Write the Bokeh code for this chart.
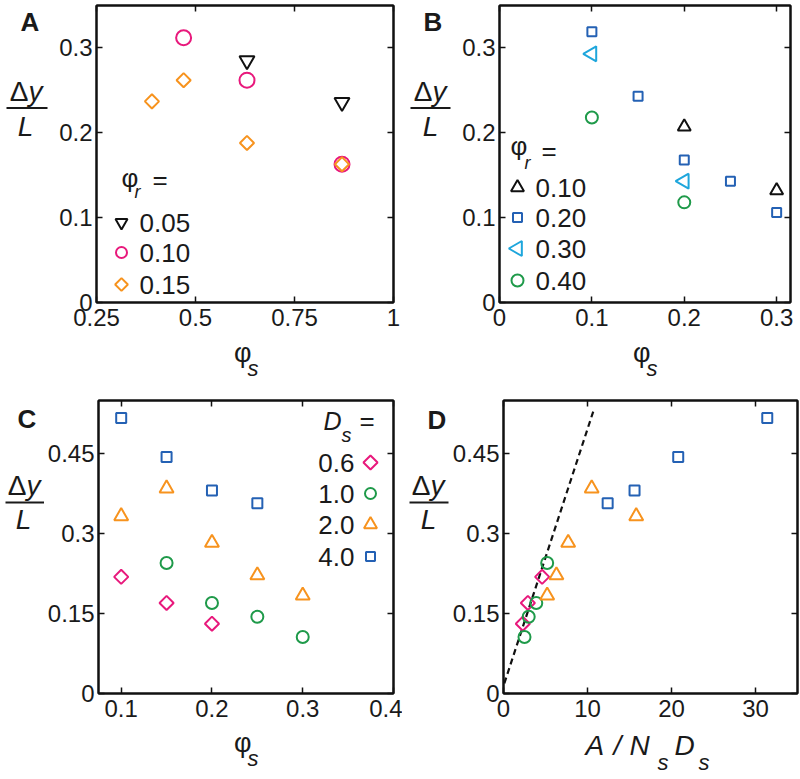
import math
from bokeh.plotting import figure
from bokeh.models import Range1d, FixedTicker, LinearAxis, Label, CustomJSTickFormatter
from bokeh.layouts import column, row
from bokeh.embed import file_html
from bokeh.resources import INLINE

# ---------------- data ----------------
# Panel A : dy/L vs phi_s for phi_r = 0.05, 0.10, 0.15
A_x_005 = [0.63, 0.87]
A_y_005 = [0.285, 0.236]
A_x_010 = [0.47, 0.63, 0.87]
A_y_010 = [0.312, 0.262, 0.163]
A_x_015 = [0.39, 0.47, 0.63, 0.87]
A_y_015 = [0.237, 0.262, 0.188, 0.163]
A_legend = ["0.05", "0.10", "0.15"]

# Panel B : dy/L vs phi_s for phi_r = 0.10, 0.20, 0.30, 0.40
B_x_010 = [0.2, 0.3]
B_y_010 = [0.207, 0.132]
B_x_020 = [0.1, 0.15, 0.2, 0.25, 0.3]
B_y_020 = [0.319, 0.243, 0.168, 0.143, 0.106]
B_x_030 = [0.1, 0.2]
B_y_030 = [0.293, 0.143]
B_x_040 = [0.1, 0.2]
B_y_040 = [0.218, 0.118]
B_legend = ["0.10", "0.20", "0.30", "0.40"]

# Panel C : dy/L vs phi_s for D_s = 0.6, 1.0, 2.0, 4.0
C_x_06 = [0.1, 0.15, 0.2]
C_y_06 = [0.219, 0.170, 0.131]
C_x_10 = [0.15, 0.2, 0.25, 0.3]
C_y_10 = [0.245, 0.170, 0.144, 0.106]
C_x_20 = [0.1, 0.15, 0.2, 0.25, 0.3]
C_y_20 = [0.333, 0.385, 0.283, 0.222, 0.184]
C_x_40 = [0.1, 0.15, 0.2, 0.25]
C_y_40 = [0.517, 0.444, 0.381, 0.357]
C_legend = ["0.6", "1.0", "2.0", "4.0"]

# Panel D : same dy/L vs A/(N_s D_s)
D_x_06 = [4.6, 2.9, 2.3]
D_x_10 = [5.2, 3.9, 3.0, 2.5]
D_x_20 = [15.8, 10.5, 7.7, 6.3, 5.2]
D_x_40 = [31.4, 20.8, 15.6, 12.4]
fit_x = [0.1, 10.8]
fit_y = [0.019, 0.535]

# ticks
A_xticks = [0.25, 0.5, 0.75, 1]
AB_yticks = [0, 0.1, 0.2, 0.3]
B_xticks = [0, 0.1, 0.2, 0.3]
C_xticks = [0.1, 0.2, 0.3, 0.4]
CD_yticks = [0, 0.15, 0.3, 0.45]
D_xticks = [0, 10, 20, 30]

# ---------------- style / layout ----------------
FONT = "Liberation Sans"
INK = "#1a1a1a"
BLACK = "#111111"
PINK = "#e8197c"
ORANGE = "#f7931e"
BLUE = "#2461b4"
CYAN = "#1ea6dc"
GREEN = "#1f9a4a"
LW = 2
DIAMOND = math.pi / 4
LEFT_TRI = math.pi / 2

# quadrant layout in page pixels
Q = {
    "A": dict(qx=0, qy=0, qw=400, qh=390, sw=52, bl=44, fw=297, br=7, bt=5, fh=297, bb=34),
    "B": dict(qx=400, qy=0, qw=400, qh=390, sw=55, bl=44, fw=291, br=10, bt=5, fh=297, bb=34),
    "C": dict(qx=0, qy=390, qw=400, qh=387, sw=44, bl=52, fw=295, br=9, bt=10, fh=293, bb=33),
    "D": dict(qx=400, qy=390, qw=399, qh=387, sw=47, bl=52, fw=294, br=6, bt=10, fh=293, bb=33),
}
RANGES = {
    "A": ((0.25, 1.0), (0, 0.35)),
    "B": ((0, 0.315), (0, 0.35)),
    "C": ((0.075, 0.4), (0, 0.55)),
    "D": ((0, 35), (0, 0.55)),
}


def frame_rect(key):
    q = Q[key]
    return q["qx"] + q["sw"] + q["bl"], q["qy"] + q["bt"], q["fw"], q["fh"]


def to_data(key, X, Y):
    fl, ft, fw, fh = frame_rect(key)
    (x0, x1), (y0, y1) = RANGES[key]
    return (x0 + (X - fl) / fw * (x1 - x0), y0 + (ft + fh - Y) / fh * (y1 - y0))


def make_fig(key, xticks, yticks):
    q = Q[key]
    (x0, x1), (y0, y1) = RANGES[key]
    p = figure(frame_width=q["fw"], frame_height=q["fh"],
               x_range=Range1d(x0, x1), y_range=Range1d(y0, y1),
               min_border_left=q["bl"], min_border_right=q["br"],
               min_border_top=q["bt"], min_border_bottom=q["bb"],
               output_backend="svg", toolbar_location=None, tools="")
    p.title.visible = False
    p.xgrid.visible = False
    p.ygrid.visible = False
    p.outline_line_color = BLACK
    p.outline_line_width = LW
    p.background_fill_color = "white"
    p.border_fill_color = "white"
    for ax, ticks, so in ((p.xaxis[0], xticks, 6), (p.yaxis[0], yticks, 4)):
        ax.ticker = FixedTicker(ticks=ticks)
        ax.formatter = CustomJSTickFormatter(code="return tick.toString()")
        ax.major_tick_in = 6
        ax.major_tick_out = 0
        ax.minor_tick_line_color = None
        ax.axis_line_width = LW
        ax.axis_line_color = BLACK
        ax.major_tick_line_width = 1.5
        ax.major_tick_line_color = BLACK
        ax.major_label_text_font = FONT
        ax.major_label_text_font_size = "24px"
        ax.major_label_text_color = INK
        ax.major_label_standoff = so
    for loc, ticks in (("above", xticks), ("right", yticks)):
        ax = LinearAxis(ticker=FixedTicker(ticks=ticks),
                        formatter=CustomJSTickFormatter(code="return ''"),
                        major_tick_in=6, major_tick_out=0,
                        minor_tick_line_color=None,
                        major_label_text_font_size="1px",
                        major_label_standoff=0,
                        axis_line_width=LW, axis_line_color=BLACK,
                        major_tick_line_width=1.5, major_tick_line_color=BLACK)
        p.add_layout(ax, loc)
    return p


def make_strip(left, top, w, h):
    f = figure(width=w, height=h, x_range=Range1d(0, w), y_range=Range1d(0, h),
               min_border=0, min_border_left=0, min_border_right=0,
               min_border_top=0, min_border_bottom=0,
               x_axis_type=None, y_axis_type=None,
               output_backend="svg", toolbar_location=None, tools="")
    f.title.visible = False
    f.outline_line_color = None
    f.background_fill_color = "white"
    f.border_fill_color = "white"
    return dict(fig=f, left=left, top=top, h=h)


def s_text(st, X, Y, text, size, style="normal", align="left"):
    st["fig"].add_layout(Label(x=X - st["left"], y=st["top"] + st["h"] - Y, text=text,
                               text_font=FONT, text_font_size=f"{size}px",
                               text_font_style=style, text_align=align,
                               text_baseline="middle", text_color=INK))


def s_bar(st, X0, X1, Y):
    yy = st["top"] + st["h"] - Y
    st["fig"].line([X0 - st["left"], X1 - st["left"]], [yy, yy], line_color=INK, line_width=2)


def lab(p, key, X, Y, text, size, style="normal", align="left"):
    x, y = to_data(key, X, Y)
    p.add_layout(Label(x=x, y=y, text=text, text_font=FONT, text_font_size=f"{size}px",
                       text_font_style=style, text_align=align, text_baseline="middle",
                       text_color=INK))


def mk(p, xs, ys, marker, color, size, angle=0.0):
    p.scatter(xs, ys, marker=marker, size=size, angle=angle,
              line_color=color, line_width=LW, fill_color=None)


def strips(key):
    q = Q[key]
    ph = q["bt"] + q["fh"] + q["bb"]
    left = make_strip(q["qx"], q["qy"], q["sw"], ph)
    bottom = make_strip(q["qx"], q["qy"] + ph, q["qw"], q["qh"] - ph)
    return left, bottom


def fraction(st, xd, ymid, xb0, xb1, ybar, xl, ylmid):
    s_text(st, xd, ymid, "\u0394", 28, align="right")
    s_text(st, xd, ymid, "y", 28, style="italic")
    s_bar(st, xb0, xb1, ybar)
    s_text(st, xl, ylmid, "L", 28, style="italic", align="center")


# ---------------- Panel A ----------------
pA = make_fig("A", A_xticks, AB_yticks)
mk(pA, A_x_005, A_y_005, "inverted_triangle", BLACK, 15)
mk(pA, A_x_010, A_y_010, "circle", PINK, 15)
mk(pA, A_x_015, A_y_015, "square", ORANGE, 10, DIAMOND)
lA, bA = strips("A")
s_text(lA, 20, 19, "A", 26, style="bold")
fraction(lA, 28, 97, 6, 47, 116, 25, 137)
s_text(bA, 251, 352, "\u03c6", 27, align="right")
s_text(bA, 247, 368, "s", 22, style="italic")
lab(pA, "A", 121, 177, "\u03c6", 26)
lab(pA, "A", 134, 191, "r", 18, style="italic")
lab(pA, "A", 152, 179, "=", 26)
for (mkr, col, sz, ang), txt, Y in zip((("inverted_triangle", BLACK, 12, 0.0), ("circle", PINK, 11, 0.0),
                                        ("square", ORANGE, 9, DIAMOND)),
                                       A_legend, (222, 252, 284)):
    lx, ly = to_data("A", 121, Y)
    mk(pA, [lx], [ly], mkr, col, sz, ang)
    lab(pA, "A", 139, Y, txt, 26)

# ---------------- Panel B ----------------
pB = make_fig("B", B_xticks, AB_yticks)
mk(pB, B_x_010, B_y_010, "triangle", BLACK, 13)
mk(pB, B_x_020, B_y_020, "square", BLUE, 9)
mk(pB, B_x_030, B_y_030, "triangle", CYAN, 15, LEFT_TRI)
mk(pB, B_x_040, B_y_040, "circle", GREEN, 12)
lB, bB = strips("B")
s_text(lB, 423, 19, "B", 26, style="bold")
fraction(lB, 432, 97, 410, 450, 116, 430, 137)
s_text(bB, 650, 352, "\u03c6", 27, align="right")
s_text(bB, 646, 368, "s", 22, style="italic")
lab(pB, "B", 510, 145, "\u03c6", 26)
lab(pB, "B", 524, 162, "r", 18, style="italic")
lab(pB, "B", 541, 150, "=", 26)
for (mkr, col, sz, ang), txt, Y in zip((("triangle", BLACK, 13, 0.0), ("square", BLUE, 9, 0.0),
                                        ("triangle", CYAN, 15, LEFT_TRI), ("circle", GREEN, 12, 0.0)),
                                       B_legend, (187, 217, 248, 280)):
    lx, ly = to_data("B", 517, Y)
    mk(pB, [lx], [ly], mkr, col, sz, ang)
    lab(pB, "B", 535, Y, txt, 26)

# ---------------- Panel C ----------------
pC = make_fig("C", C_xticks, CD_yticks)
mk(pC, C_x_06, C_y_06, "square", PINK, 10, DIAMOND)
mk(pC, C_x_10, C_y_10, "circle", GREEN, 12)
mk(pC, C_x_20, C_y_20, "triangle", ORANGE, 14)
mk(pC, C_x_40, C_y_40, "square", BLUE, 10)
lC, bC = strips("C")
s_text(lC, 17, 411, "C", 26, style="bold")
fraction(lC, 26, 487, 5, 44, 507, 23, 527)
s_text(bC, 251, 742, "\u03c6", 27, align="right")
s_text(bC, 247, 758, "s", 22, style="italic")
lab(pC, "C", 321, 420, "D", 25, style="italic")
lab(pC, "C", 339, 434, "s", 20, style="italic")
lab(pC, "C", 357, 420, "=", 26)
for (mkr, col, sz, ang), txt, Y in zip((("square", PINK, 10, DIAMOND), ("circle", GREEN, 11, 0.0),
                                        ("triangle", ORANGE, 13, 0.0), ("square", BLUE, 9, 0.0)),
                                       C_legend, (462, 493, 524, 556)):
    lx, ly = to_data("C", 368, Y)
    mk(pC, [lx], [ly], mkr, col, sz, ang)
    lab(pC, "C", 352, Y, txt, 26, align="right")

# ---------------- Panel D ----------------
pD = make_fig("D", D_xticks, CD_yticks)
pD.line(fit_x, fit_y, line_color=BLACK, line_width=2.2, line_dash="6 4")
mk(pD, D_x_06, C_y_06, "square", PINK, 10, DIAMOND)
mk(pD, D_x_10, C_y_10, "circle", GREEN, 12)
mk(pD, D_x_20, C_y_20, "triangle", ORANGE, 14)
mk(pD, D_x_40, C_y_40, "square", BLUE, 10)
lD, bD = strips("D")
s_text(lD, 425, 412, "D", 26, style="bold")
fraction(lD, 428, 487, 407, 446, 507, 426, 527)
s_text(bD, 583, 745, "A", 28, style="italic")
s_text(bD, 611, 745, "/", 28, style="italic")
s_text(bD, 627, 745, "N", 28, style="italic")
s_text(bD, 655, 762, "s", 22, style="italic")
s_text(bD, 672, 745, "D", 28, style="italic")
s_text(bD, 696, 762, "s", 22, style="italic")


def quad(l, p, b):
    return column(row(l["fig"], p), b["fig"])


layout = column(row(quad(lA, pA, bA), quad(lB, pB, bB)),
                row(quad(lC, pC, bC), quad(lD, pD, bD)))
open("out.html", "w").write(file_html(layout, INLINE))
